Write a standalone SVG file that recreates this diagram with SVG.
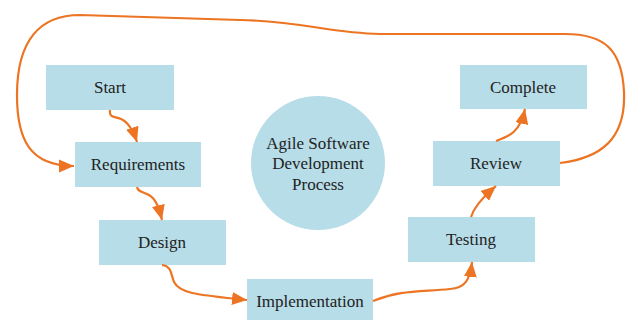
<svg xmlns="http://www.w3.org/2000/svg" width="627" height="320" viewBox="0 0 627 320">
<style>
.box{fill:#B7DDE8;}
.t{font-family:"Liberation Serif","Times New Roman",serif;font-size:17px;fill:#222;text-anchor:middle;dominant-baseline:central;}
.c{fill:none;stroke:#EC7422;stroke-width:2.2;}
</style>
<defs>
<marker id="ah" markerUnits="userSpaceOnUse" markerWidth="16" markerHeight="16" viewBox="0 0 16 16" refX="15" refY="8" orient="auto">
<path d="M0,1.5 L15,8 L0,14.5 Z" fill="#EC7422"/>
</marker>
</defs>
<rect width="627" height="320" fill="#fff"/>
<g id="circle"><circle cx="318" cy="163" r="67" class="box"/>
<text class="t" x="318" y="143">Agile Software</text>
<text class="t" x="318" y="163">Development</text>
<text class="t" x="318" y="184">Process</text></g>
<g id="start"><rect class="box" x="46" y="65" width="128" height="45"/><text class="t" x="110" y="87">Start</text></g>
<g id="requirements"><rect class="box" x="75" y="142" width="126" height="45"/><text class="t" x="138" y="164">Requirements</text></g>
<g id="design"><rect class="box" x="99" y="220" width="127" height="45"/><text class="t" x="162" y="242">Design</text></g>
<g id="implementation"><rect class="box" x="247" y="279" width="126" height="45"/><text class="t" x="310" y="301">Implementation</text></g>
<g id="testing"><rect class="box" x="408" y="217" width="127" height="45"/><text class="t" x="471" y="239">Testing</text></g>
<g id="review"><rect class="box" x="433" y="141" width="127" height="45"/><text class="t" x="496" y="163">Review</text></g>
<g id="complete"><rect class="box" x="460" y="65" width="127" height="44"/><text class="t" x="523" y="87">Complete</text></g>
<g id="connectors">
<path class="c" marker-end="url(#ah)" d="M110 110 C109 118,114 116,121 119 C128 122,133 130,137 142"/>
<path class="c" marker-end="url(#ah)" d="M137 187 C138 192,142 191,149 195 C156 199,159 208,162 220"/>
<path class="c" marker-end="url(#ah)" d="M162 265 C172 266,171 275,174 282 C180 294,200 295,247 300"/>
<path class="c" marker-end="url(#ah)" d="M373 301 C400 290,420 292,450 289 C465 288,470 280,472 262"/>
<path class="c" marker-end="url(#ah)" d="M471 217 C474 208,480 200,496 186"/>
<path class="c" marker-end="url(#ah)" d="M496 141 C510 136,520 132,525 109"/>
<path class="c" marker-end="url(#ah)" d="M560 163 C600 158,626 140,624 92 C622 50,605 34,565 34 L380 34 C330 33,300 21,240 20 L80 15 C40 15,17 40,17 95 C17 140,30 166,74 166"/>
</g>
</svg>
